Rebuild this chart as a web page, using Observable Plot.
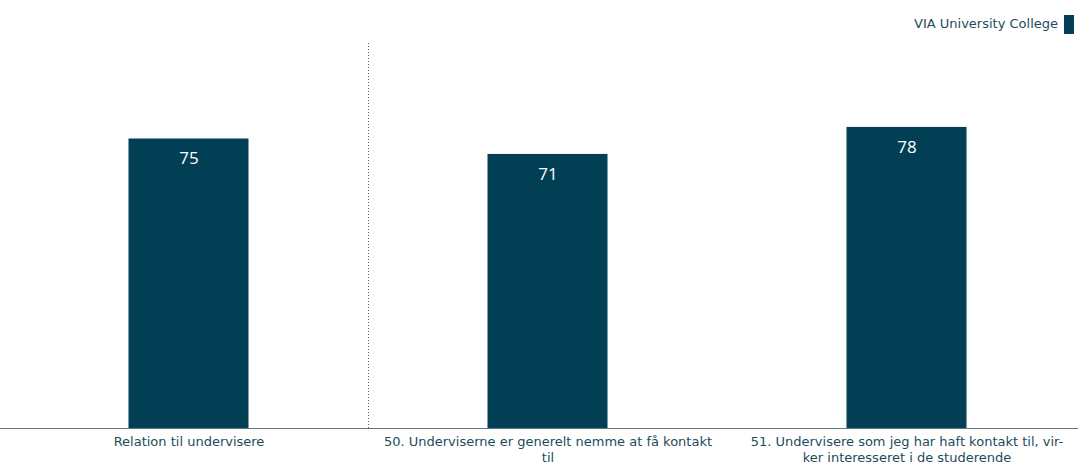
<!DOCTYPE html>
<html><head><meta charset="utf-8">
<script src="https://cdn.jsdelivr.net/npm/d3@7"></script>
<script src="https://cdn.jsdelivr.net/npm/@observablehq/plot@0.6"></script>
<style>
body{margin:0;background:#fff;width:1078px;height:471px;overflow:hidden;}
#legend{height:42px;position:relative;font-family:"DejaVu Sans",sans-serif;font-size:13px;color:#1d4b5c;}
#legend span.t{position:absolute;right:20px;top:16px;}
#legend span.s{position:absolute;right:4px;top:15px;width:10px;height:19px;background:#023f55;}
</style></head>
<body>
<div id="legend"><span class="t">VIA University College</span><span class="s"></span></div>
<div id="chart"></div>
<script>
const categories = ["Relation til undervisere", "50. Underviserne er generelt nemme at få kontakt til", "51. Undervisere som jeg har haft kontakt til, virker interesseret i de studerende"];
const tickLabels = ["Relation til undervisere", "50. Underviserne er generelt nemme at få kontakt\ntil", "51. Undervisere som jeg har haft kontakt til, vir-\nker interesseret i de studerende"];
const values = [75, 71, 78];
const seriesName = "VIA University College";

const data = categories.map((c, i) => ({cat: c, label: tickLabels[i], value: values[i]}));
const xRange = [9, 1086];
const band = (xRange[1] - xRange[0]) / categories.length;
const barW = 120;
const inset = (band - barW) / 2;
const color = "#023f55";

const plot = Plot.plot({
  width: 1078,
  height: 429,
  marginTop: 0,
  marginBottom: 43,
  marginLeft: 0,
  marginRight: 0,
  x: {domain: categories, range: xRange, padding: 0, axis: null},
  y: {domain: [0, 100], axis: null},
  style: {background: "transparent"},
  marks: [
    Plot.barY(data, {x: "cat", y: "value", fill: color, insetLeft: inset, insetRight: inset}),
    Plot.ruleX([categories[1]], {x: d => d, y1: 0, y2: 100, dx: -band / 2, stroke: "#666", strokeDasharray: "1,2", strokeWidth: 1}),
    Plot.ruleY([0], {stroke: "#5b7581", strokeWidth: 1}),
    Plot.text(data, {x: "cat", y: "value", text: d => String(d.value), dy: 20, fill: "#fff", fontSize: 17, fontFamily: "'Segoe UI','Open Sans',sans-serif"}),
    Plot.text(data, {x: "cat", y: 0, text: "label", lineAnchor: "top", dy: 6, lineHeight: 1.25, fill: "#1d4b5c", fontSize: 13, fontFamily: "'DejaVu Sans',sans-serif"})
  ]
});
document.getElementById("chart").appendChild(plot);
</script>
</body></html>
